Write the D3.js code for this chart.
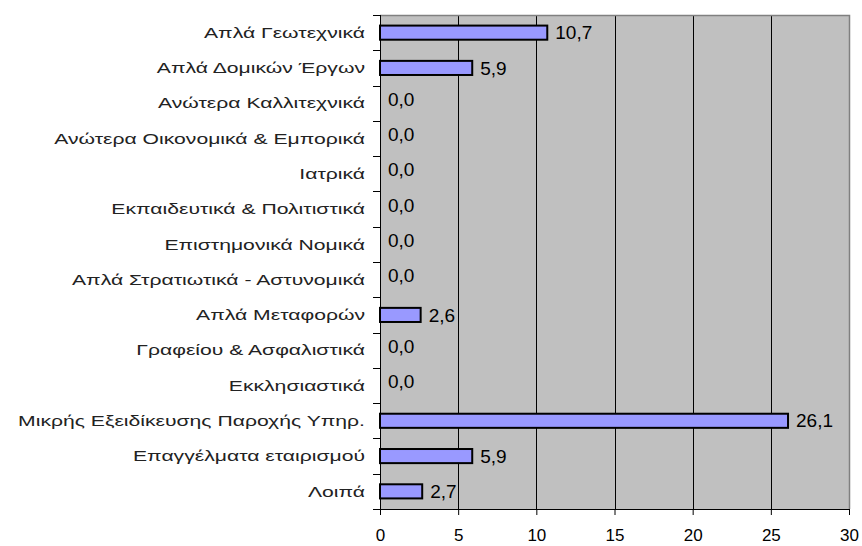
<!DOCTYPE html>
<html><head><meta charset="utf-8">
<script src="https://cdn.jsdelivr.net/npm/d3@7"></script>
<style>body{margin:0;background:#fff}svg{display:block}</style>
</head><body>
<svg id="c" width="862" height="546"></svg>
<script>
const categories = ["Απλά Γεωτεχνικά","Απλά Δομικών Έργων","Ανώτερα Καλλιτεχνικά","Ανώτερα Οικονομικά & Εμπορικά","Ιατρικά","Εκπαιδευτικά & Πολιτιστικά","Επιστημονικά Νομικά","Απλά Στρατιωτικά - Αστυνομικά","Απλά Μεταφορών","Γραφείου & Ασφαλιστικά","Εκκλησιαστικά","Μικρής Εξειδίκευσης Παροχής Υπηρ.","Επαγγέλματα εταιρισμού","Λοιπά"];
const values = [10.7,5.9,0,0,0,0,0,0,2.6,0,0,26.1,5.9,2.7];
const xTicks = [0,5,10,15,20,25,30];

const svg = d3.select("#c");
const L=380, R=849, T=15, B=509;
const FONT = "Liberation Sans, Arial, sans-serif";
const x = d3.scaleLinear().domain([0,30]).range([L,R]);
const y = d3.scaleBand().domain(categories).range([T,B]).paddingInner(0.6).paddingOuter(0.3);
const yb = d3.scaleBand().domain(categories).range([T,B]);

svg.append("rect").attr("x",L).attr("y",T).attr("width",R-L).attr("height",B-T).attr("fill","#c0c0c0");
svg.append("g").selectAll("line").data(xTicks.filter(d=>d>0&&d<30)).join("line")
  .attr("x1",d=>Math.round(x(d))+0.5).attr("x2",d=>Math.round(x(d))+0.5).attr("y1",T).attr("y2",B).attr("stroke","#000").attr("stroke-width",1);
svg.append("path").attr("d",`M${L},${T+0.5}H${R+0.5}V${B}`).attr("fill","none").attr("stroke","#808080").attr("stroke-width",1.5);

svg.append("g").selectAll("rect").data(values).join("rect")
  .attr("x",x(0)).attr("y",(d,i)=>y(categories[i]))
  .attr("width",d=>x(d)-x(0)).attr("height",y.bandwidth())
  .attr("fill","#9999ff").attr("stroke","#000").attr("stroke-width",d=>d>0?2:0);

svg.append("g").selectAll("text").data(values).join("text")
  .attr("x",d=>x(d)+8).attr("y",(d,i)=>y(categories[i])+y.bandwidth()/2 - (d===0?4:0))
  .attr("dy","0.35em").attr("font-family",FONT).attr("font-size",19)
  .attr("fill","#000").text(d=>d.toFixed(1).replace(".",","));

const ya = svg.append("g");
ya.append("line").attr("x1",L+0.5).attr("x2",L+0.5).attr("y1",T).attr("y2",B+6).attr("stroke","#000");
ya.selectAll("line.t").data(d3.range(categories.length+1)).join("line").attr("class","t")
  .attr("x1",L-7).attr("x2",L).attr("y1",i=>Math.round(T+i*yb.step())+0.5).attr("y2",i=>Math.round(T+i*yb.step())+0.5).attr("stroke","#000");
ya.selectAll("text").data(categories).join("text")
  .attr("transform",d=>`translate(365,${yb(d)+yb.bandwidth()/2}) scale(1.41,1)`)
  .attr("dy","0.35em").attr("text-anchor","end")
  .attr("font-family",FONT).attr("font-size",15).attr("fill","#222").text(d=>d);

const xa = svg.append("g").attr("transform",`translate(0,${B})`)
  .call(d3.axisBottom(x).tickValues(xTicks).tickSize(6).tickSizeOuter(0).tickFormat(d=>d));
xa.select(".domain").attr("stroke","#000").attr("d",`M${L-7},0.5H${R}`);
xa.selectAll(".tick line").attr("stroke","#000");
xa.selectAll(".tick text").attr("font-family",FONT).attr("font-size",17).attr("fill","#000").attr("y",32).attr("dy",0);
</script></body></html>
